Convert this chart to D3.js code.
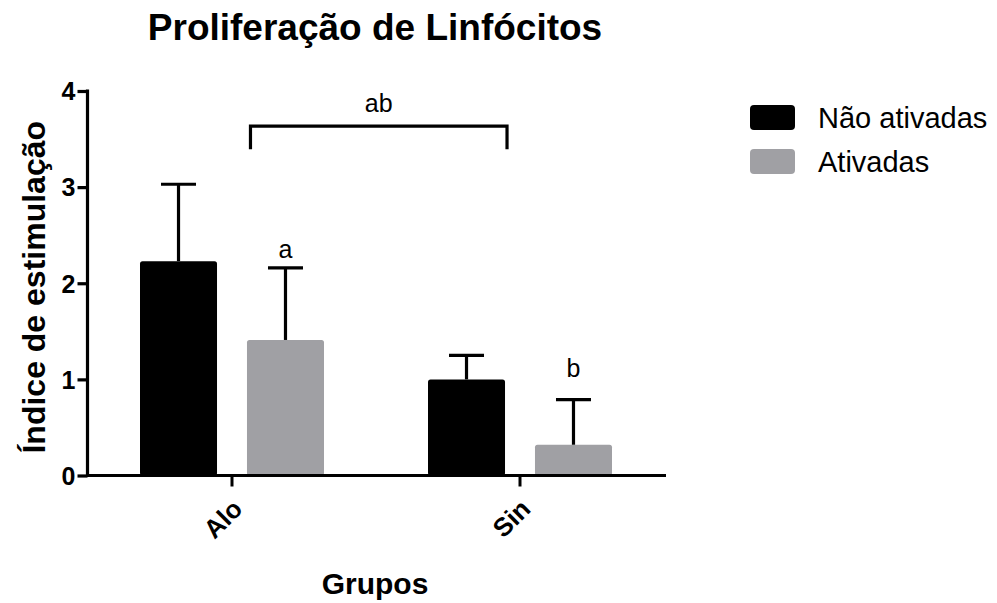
<!DOCTYPE html>
<html>
<head>
<meta charset="utf-8">
<script src="https://cdn.jsdelivr.net/npm/d3@7"></script>
<style>
  html, body { margin: 0; padding: 0; background: #ffffff; }
  svg { display: block; }
  text { font-family: "Liberation Sans", Arial, Helvetica, sans-serif; fill: #000; }
</style>
</head>
<body>
<svg id="chart" width="997" height="603"></svg>
<script>
// Groups and series
const groups = ["Alo", "Sin"];
const series = ["Não ativadas", "Ativadas"];
const seriesColors = ["#000000", "#a0a0a4"];

// Mean stimulation index per group, one array per series
const naoAtivadas = [2.23, 1.00];
const ativadas = [1.41, 0.32];
// Upper end of each error bar (mean + SD)
const naoAtivadasUpper = [3.03, 1.25];
const ativadasUpper = [2.16, 0.79];

const yTicks = [0, 1, 2, 3, 4];

// Significance letters: [group, series, letter, value where the text sits]
const letterGroups = ["Alo", "Sin"];
const letterSeries = ["Ativadas", "Ativadas"];
const letterText = ["a", "b"];
const letterValue = [2.26, 1.02];

// Bracket between Alo/Ativadas and Sin/Não ativadas
const bracketLabel = "ab";
const bracketTop = 3.635;
const bracketLegEnd = 3.395;
const bracketLabelValue = 3.78;

const svg = d3.select("#chart");

const x0 = d3.scaleBand().domain(groups).range([88, 664]).paddingInner(0).paddingOuter(0);
const x1 = d3.scaleBand().domain(series).range([-92, 92]).paddingInner(0.28).paddingOuter(0);
const y = d3.scaleLinear().domain([0, 4]).range([475.5, 91]);
const color = d3.scaleOrdinal().domain(series).range(seriesColors);

const values = { "Não ativadas": naoAtivadas, "Ativadas": ativadas };
const uppers = { "Não ativadas": naoAtivadasUpper, "Ativadas": ativadasUpper };

const rows = [];
groups.forEach((g, gi) => {
  series.forEach(s => {
    rows.push({ group: g, series: s, value: values[s][gi], upper: uppers[s][gi] });
  });
});

const barX = d => x0(d.group) + x0.bandwidth() / 2 + x1(d.series);
const barCx = d => barX(d) + x1.bandwidth() / 2;

// Title
svg.append("text")
  .attr("x", 375).attr("y", 40)
  .attr("text-anchor", "middle")
  .style("font-size", "37px").style("font-weight", "bold")
  .text("Proliferação de Linfócitos");

// Bars
svg.append("g").selectAll("rect").data(rows).join("rect")
  .attr("x", barX)
  .attr("y", d => y(d.value))
  .attr("width", x1.bandwidth())
  .attr("height", d => y(0) - y(d.value))
  .attr("rx", 2.5)
  .attr("fill", d => color(d.series));

// Error bars (upper only)
const err = svg.append("g").attr("stroke", "#000").attr("stroke-width", 3.2);
err.selectAll("line.v").data(rows).join("line").attr("class", "v")
  .attr("x1", barCx).attr("x2", barCx)
  .attr("y1", d => y(d.value)).attr("y2", d => y(d.upper));
err.selectAll("line.c").data(rows).join("line").attr("class", "c")
  .attr("x1", d => barCx(d) - 17.5).attr("x2", d => barCx(d) + 17.5)
  .attr("y1", d => y(d.upper)).attr("y2", d => y(d.upper));

// Y axis
const yAxis = svg.append("g")
  .attr("transform", "translate(87.5,0)")
  .call(d3.axisLeft(y).tickValues(yTicks).tickFormat(d3.format("d")).tickSize(10).tickPadding(2));
yAxis.select(".domain").attr("stroke", "#000").attr("stroke-width", 3.2)
  .attr("d", `M0,${y(4) - 1.6}V${y(0) + 1.6}`);
yAxis.selectAll(".tick line").attr("stroke", "#000").attr("stroke-width", 3.2);
yAxis.selectAll(".tick text")
  .style("font-size", "25px").style("font-weight", "bold")
  .style("font-family", "'Liberation Sans', Arial, sans-serif")
  .attr("fill", "#000").attr("dy", "0.35em");

// X axis
const xAxis = svg.append("g")
  .attr("transform", `translate(0,${y(0)})`)
  .call(d3.axisBottom(x0).tickSize(11).tickSizeOuter(0).tickPadding(8));
xAxis.select(".domain").attr("stroke", "#000").attr("stroke-width", 3.2)
  .attr("d", "M86,0H666");
xAxis.selectAll(".tick line").attr("stroke", "#000").attr("stroke-width", 3);
xAxis.selectAll(".tick text")
  .style("font-size", "26px").style("font-weight", "bold")
  .style("font-family", "'Liberation Sans', Arial, sans-serif")
  .attr("fill", "#000")
  .attr("text-anchor", "end")
  .attr("dy", "0")
  .attr("transform", "translate(12,35) rotate(-45)")
  .attr("y", 0).attr("x", 0);

// Axis titles
svg.append("text")
  .attr("transform", `translate(45,${(y(0) + y(4)) / 2 + 4}) rotate(-90)`)
  .attr("text-anchor", "middle")
  .style("font-size", "32px").style("font-weight", "bold")
  .text("Índice de estimulação");

svg.append("text")
  .attr("x", 375).attr("y", 594)
  .attr("text-anchor", "middle")
  .style("font-size", "30px").style("font-weight", "bold")
  .text("Grupos");

// Significance letters over bars
letterText.forEach((t, i) => {
  const d = { group: letterGroups[i], series: letterSeries[i] };
  svg.append("text")
    .attr("x", barCx(d)).attr("y", y(letterValue[i]))
    .attr("text-anchor", "middle")
    .style("font-size", "25px")
    .text(t);
});

// Bracket
const bl = barX({ group: "Alo", series: "Ativadas" }) + 3.5;
const br = barX({ group: "Sin", series: "Não ativadas" }) + x1.bandwidth() + 2;
svg.append("path")
  .attr("d", `M${bl},${y(bracketLegEnd)}V${y(bracketTop)}H${br}V${y(bracketLegEnd)}`)
  .attr("fill", "none").attr("stroke", "#000").attr("stroke-width", 3.2);
svg.append("text")
  .attr("x", (bl + br) / 2).attr("y", y(bracketLabelValue))
  .attr("text-anchor", "middle")
  .style("font-size", "25px")
  .text(bracketLabel);

// Legend
const legend = svg.append("g").attr("transform", "translate(750,105)");
const li = legend.selectAll("g").data(series).join("g")
  .attr("transform", (d, i) => `translate(0,${i * 44})`);
li.append("rect")
  .attr("width", 45).attr("height", 25).attr("rx", 4)
  .attr("fill", d => color(d));
li.append("text")
  .attr("x", 68).attr("y", 23)
  .style("font-size", "29px")
  .text(d => d);
</script>
</body>
</html>
